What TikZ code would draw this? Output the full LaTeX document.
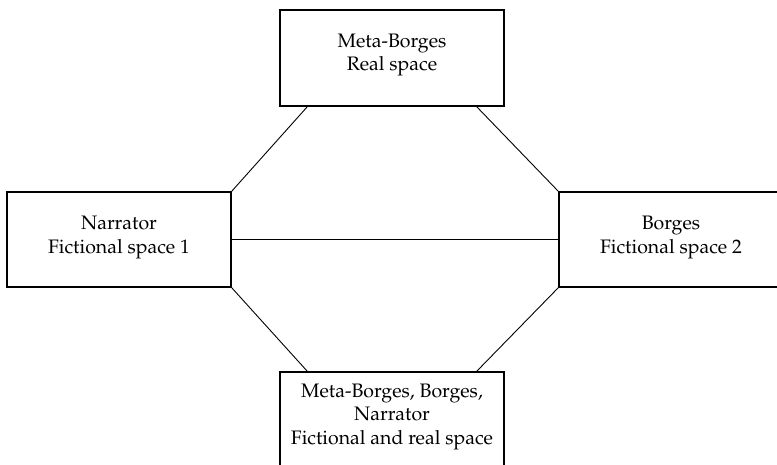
\documentclass[tikz,border=0pt]{standalone}
\usepackage[T1]{fontenc}
\renewcommand{\rmdefault}{ppl}
\usetikzlibrary{positioning}

\begin{document}
\begin{tikzpicture}[x=1pt,y=-1pt,
		space/.style={rectangle,draw,line width=1.1pt,minimum width=224pt,minimum height=96pt,inner sep=0pt},
		spacetext/.style={inner sep=0pt,align=center,font=\fontsize{19.5}{23.5}\selectfont},
		link/.style={line width=0.9pt}]
		\useasboundingbox (0,0) rectangle (777,464);
		\clip (0,0) rectangle (777,464);
		
		\node[space] (meta) at (392,58) {};
		\node[space,minimum height=95pt] (narrator) at (119,239.5) {};
		\node[space,minimum height=95pt] (borges) at (671,239.5) {};
		\node[space] (all) at (392,420) {};
		
		\node[spacetext] (metatext) at ([yshift=3pt]meta.center) {Meta-Borges\\Real space};
		\node[spacetext] (narratortext) at ([yshift=2pt]narrator.center) {Narrator\\Fictional space 1};
		\node[spacetext] (borgestext) at ([yshift=2pt]borges.center) {Borges\\Fictional space 2};
		\node[spacetext] (alltext) at ([yshift=3.5pt]all.center) {Meta-Borges, Borges,\\Narrator\\Fictional and real space};
		
		% Add lines between the spaces
		\draw[link] (narrator.north east) -- ([xshift=28pt]meta.south west);
		\draw[link] ([xshift=-28pt]meta.south east) -- (borges.north west);
		\draw[link] (narrator.east) -- (borges.west);
		\draw[link] (narrator.south east) -- ([xshift=28pt]all.north west);
		\draw[link] ([xshift=-28pt]all.north east) -- (borges.south west);
		
	\end{tikzpicture}
\end{document}
